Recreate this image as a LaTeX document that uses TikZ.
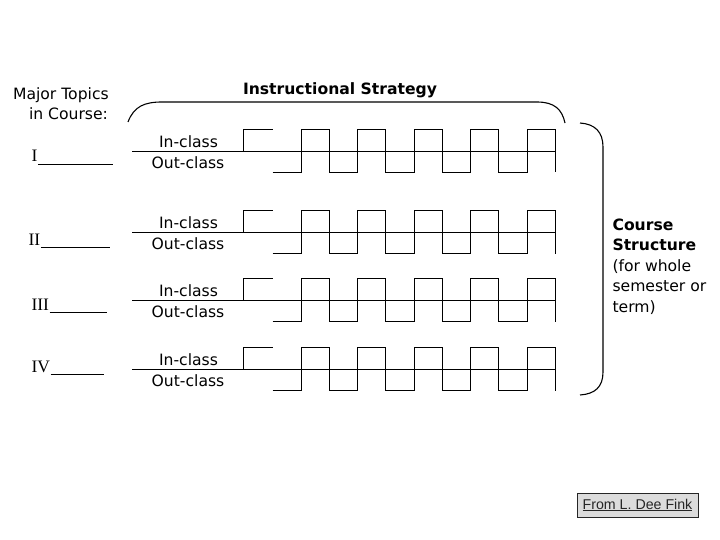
\documentclass[tikz,border=0pt]{standalone}
\usepackage{fontspec}
\setmainfont{DejaVu Sans}
\newfontfamily\romfont{Liberation Serif}
\newfontfamily\arialfont{Liberation Sans}
\usetikzlibrary{positioning}

\definecolor{boxgray}{RGB}{220,220,220}
\newcommand\bodyfont{\fontsize{15.6}{20.5}\selectfont}

\begin{document}
\begin{tikzpicture}[x=1pt, y=-1pt, line width=1.1pt,
  txt/.style={font=\bodyfont, inner sep=0pt},
  boldtxt/.style={font=\bodyfont\bfseries, inner sep=0pt},
  topiclab/.style={font=\romfont\fontsize{17.5}{20}\selectfont, inner sep=0pt, anchor=base west}]
  \useasboundingbox (0,0) rectangle (720,540);
  % --- headings ---
  \node[txt, anchor=north west, align=left] (topics) at (12.5,87) {Major Topics\\\hspace{16pt}in Course:};
  \node[boldtxt, anchor=base] (strategy) at (340,95) {Instructional Strategy};
  % top brace over the strategy
  \draw (128,122) .. controls (134,106) and (145,102) .. (162,102) -- (537,102)
    .. controls (554,102) and (562,109) .. (565,123);
  % --- rows, one per topic ---
  \foreach \y/\lab/\lx/\ly/\ux [count=\i] in {151.5/I/31/162/113, 232.5/II/28/245/110,
      300.5/III/31/310/107, 369.5/IV/31/372/104} {
    \pgfmathsetmacro\yt{\y-22}
    \pgfmathsetmacro\yb{\y+21}
    \node[topiclab] (topic\i) at (\lx,\ly) {\lab};
    \draw ([yshift=-2.5pt]topic\i.base east) -- (\ux,\ly+2.5);
    \node[txt, anchor=base] (in\i) at (188.5,\y-4) {In-class};
    \node[txt, anchor=base] (out\i) at (188,\y+17) {Out-class};
    \draw (132,\y) -- (556,\y);
    % in-class / out-class wave
    \draw (243.5,\y) |- (272.7,\yt);
    \draw (272.7,\yb) -| (301.5,\yt) -| (329.5,\yb) -| (357.5,\yt) -| (385.5,\yb)
      -| (414.5,\yt) -| (442.5,\yb) -| (470.5,\yt) -| (498.5,\yb) -| (527.5,\yt) -| (555.5,\yb);
  }
  % --- course structure ---
  \draw (580,123) .. controls (595,124) and (603,132) .. (603,147) -- (603,372)
    .. controls (603,387) and (595,394) .. (580,395);
  \node[txt, anchor=north west, align=left] (structure) at (612,218)
    {\textbf{Course}\\\textbf{Structure}\\(for whole\\semester or\\term)};
  % --- source ---
  \node[draw=black!85, fill=boxgray, line width=0.8pt, minimum width=121pt, minimum height=24pt,
    inner sep=0pt, text=black!85, font=\arialfont\fontsize{14.2}{16}\selectfont] (source)
    at (637.5,505) {\underline{From L. Dee Fink}};
\end{tikzpicture}
\end{document}
